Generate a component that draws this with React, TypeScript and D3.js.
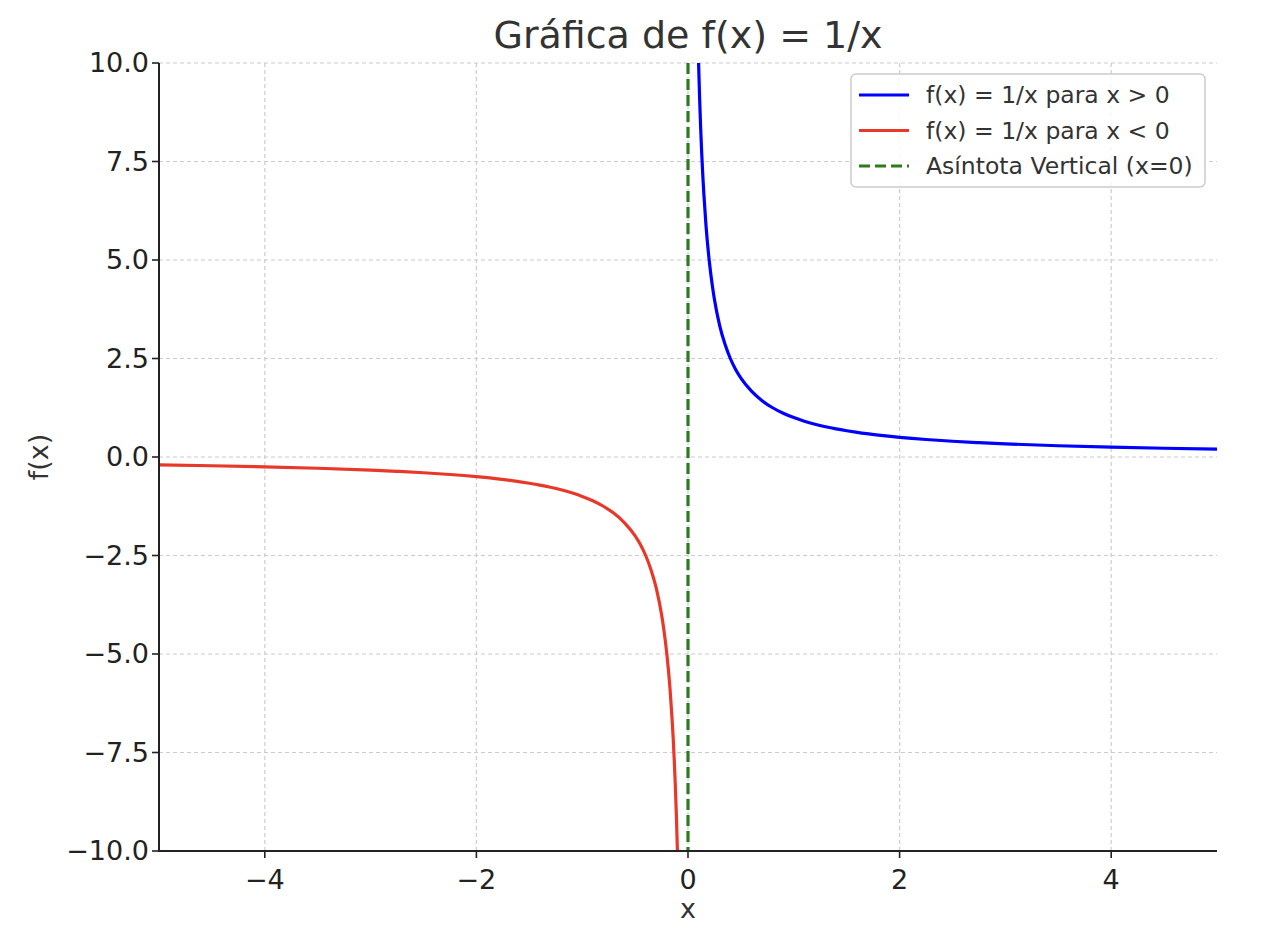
import React from "react";
import * as d3 from "d3";

const posX = [0.09, 0.1, 0.11, 0.12, 0.13, 0.14, 0.15, 0.17, 0.2, 0.23, 0.25, 0.3, 0.35, 0.4, 0.45, 0.5, 0.6, 0.7, 0.8, 0.9, 1.0, 1.1, 1.2, 1.3, 1.4, 1.5, 1.6, 1.8, 2.0, 2.25, 2.5, 2.75, 3.0, 3.5, 4.0, 4.5, 5.0];
const posY = [11.11, 10.0, 9.09, 8.33, 7.69, 7.14, 6.67, 5.88, 5.0, 4.35, 4.0, 3.33, 2.86, 2.5, 2.22, 2.0, 1.67, 1.43, 1.25, 1.11, 1.0, 0.909, 0.833, 0.769, 0.714, 0.667, 0.625, 0.556, 0.5, 0.444, 0.4, 0.364, 0.333, 0.286, 0.25, 0.222, 0.2];
const negX = [-5.0, -4.5, -4.0, -3.5, -3.0, -2.75, -2.5, -2.25, -2.0, -1.8, -1.6, -1.5, -1.4, -1.3, -1.2, -1.1, -1.0, -0.9, -0.8, -0.7, -0.6, -0.5, -0.45, -0.4, -0.35, -0.3, -0.25, -0.23, -0.2, -0.17, -0.15, -0.14, -0.13, -0.12, -0.11, -0.1, -0.09];
const negY = [-0.2, -0.222, -0.25, -0.286, -0.333, -0.364, -0.4, -0.444, -0.5, -0.556, -0.625, -0.667, -0.714, -0.769, -0.833, -0.909, -1.0, -1.11, -1.25, -1.43, -1.67, -2.0, -2.22, -2.5, -2.86, -3.33, -4.0, -4.35, -5.0, -5.88, -6.67, -7.14, -7.69, -8.33, -9.09, -10.0, -11.11];
const xTicks = [-4, -2, 0, 2, 4];
const yTicks = [-10, -7.5, -5, -2.5, 0, 2.5, 5, 7.5, 10];
const legendLabels = ["f(x) = 1/x para x > 0", "f(x) = 1/x para x < 0", "Asíntota Vertical (x=0)"];
const asymptoteX = 0;

const W = 1270, H = 932;
const L = 159, R = 1217, T = 63, B = 851;
const FONT = "DejaVu Sans, sans-serif";

export default function App() {
  const x = d3.scaleLinear().domain([-5, 5]).range([L, R]);
  const y = d3.scaleLinear().domain([-10, 10]).range([B, T]);
  const line = d3.line<[number, number]>().x(d => x(d[0])).y(d => y(d[1])).curve(d3.curveMonotoneX);
  const posPts = posX.map((v, i) => [v, posY[i]] as [number, number]);
  const negPts = negX.map((v, i) => [v, negY[i]] as [number, number]);
  const yFmt = d3.format(".1f");
  const xFmt = d3.format("d");
  const colors = ["#0000ff", "#e8382a", "#2e7a1f"];

  return (
    <svg width={W} height={H} style={{ position: "absolute", left: 0, top: 0, display: "block", background: "#fff" }} fontFamily={FONT}>
      <defs>
        <clipPath id="plot"><rect x={L} y={T} width={R - L} height={B - T} /></clipPath>
      </defs>
      {xTicks.map(t => (
        <line key={"gx" + t} x1={x(t)} x2={x(t)} y1={T} y2={B} stroke="#cccccc" strokeWidth={1.2} strokeDasharray="4,3" />
      ))}
      {yTicks.map(t => (
        <line key={"gy" + t} x1={L} x2={R} y1={y(t)} y2={y(t)} stroke="#cccccc" strokeWidth={1.2} strokeDasharray="4,3" />
      ))}
      <g clipPath="url(#plot)">
        <path d={line(posPts) || ""} fill="none" stroke={colors[0]} strokeWidth={3.2} />
        <path d={line(negPts) || ""} fill="none" stroke={colors[1]} strokeWidth={3.2} />
        <line x1={x(asymptoteX)} x2={x(asymptoteX)} y1={T} y2={B} stroke={colors[2]} strokeWidth={3.2} strokeDasharray="11,5" />
      </g>
      <line x1={L} x2={L} y1={T} y2={B + 1} stroke="#222" strokeWidth={2} />
      <line x1={L - 1} x2={R} y1={B} y2={B} stroke="#222" strokeWidth={2} />
      {xTicks.map(t => (
        <g key={"xt" + t}>
          <line x1={x(t)} x2={x(t)} y1={B} y2={B + 7} stroke="#222" strokeWidth={1.6} />
          <text x={x(t)} y={B + 38} textAnchor="middle" fontSize={27} fill="#222">{xFmt(t)}</text>
        </g>
      ))}
      {yTicks.map(t => (
        <g key={"yt" + t}>
          <line x1={L - 7} x2={L} y1={y(t)} y2={y(t)} stroke="#222" strokeWidth={1.6} />
          <text x={L - 10} y={y(t)} dy="0.35em" textAnchor="end" fontSize={27} fill="#222">{yFmt(t)}</text>
        </g>
      ))}
      <text x={(L + R) / 2} y={918} textAnchor="middle" fontSize={27} fill="#333">x</text>
      <text transform={`translate(48,${(T + B) / 2}) rotate(-90)`} textAnchor="middle" fontSize={27} fill="#333">f(x)</text>
      <text x={(L + R) / 2} y={48} textAnchor="middle" fontSize={38} fill="#333">Gráfica de f(x) = 1/x</text>
      <rect x={851} y={74} width={354} height={113} rx={5} fill="#fff" fillOpacity={0.85} stroke="#cccccc" strokeWidth={1.5} />
      {legendLabels.map((lab, i) => {
        const cy = 95 + i * 35.5;
        return (
          <g key={lab}>
            <line x1={859} x2={909} y1={cy} y2={cy} stroke={colors[i]} strokeWidth={3.2} strokeDasharray={i === 2 ? "11,5" : undefined} />
            <text x={926} y={cy} dy="0.35em" fontSize={23.5} fill="#333">{lab}</text>
          </g>
        );
      })}
    </svg>
  );
}
